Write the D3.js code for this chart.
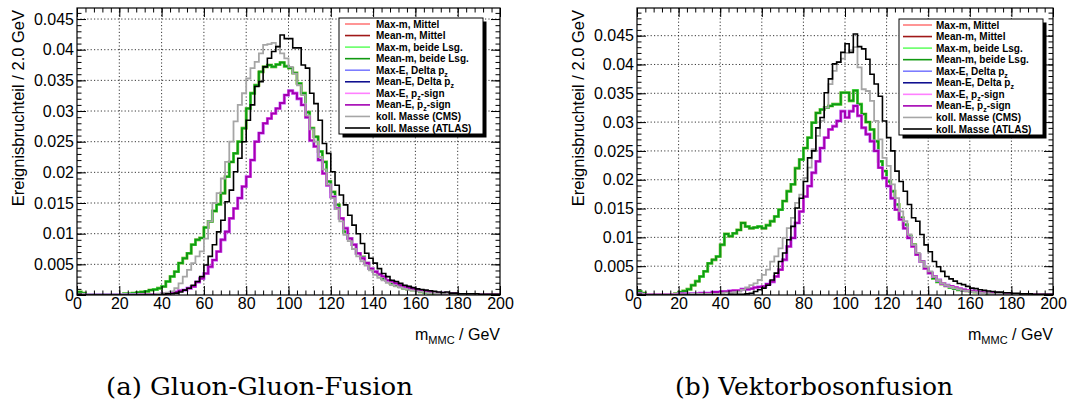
<!DOCTYPE html>
<html>
<head>
<meta charset="utf-8">
<script src="https://d3js.org/d3.v7.min.js"></script>
<style>
  body { margin: 0; background: #fff; }
  text { font-family: "Liberation Sans", Arial, Helvetica, sans-serif; }
</style>
</head>
<body>
<script>
// m_MMC histograms, 100 bins of 2 GeV from 0 to 200
var binWidth = 2;

// gluon-gluon fusion
var ggMeanMBeide = [0.0005,0.0003,0.0001,0.0001,0.0001,0.0001,0.0001,0.0001,0.0001,0.0001,
  0.0001,0.0002,0.0002,0.0003,0.0004,0.0005,0.0006,0.0008,0.0009,0.0011,
  0.0014,0.0022,0.0030,0.0038,0.0052,0.0060,0.0068,0.0082,0.0090,0.0093,
  0.0110,0.0120,0.0137,0.0148,0.0166,0.0193,0.0217,0.0231,0.0250,0.0272,
  0.0304,0.0329,0.0342,0.0364,0.0372,0.0375,0.0372,0.0376,0.0379,0.0373,
  0.0370,0.0362,0.0345,0.0329,0.0298,0.0272,0.0258,0.0234,0.0217,0.0185,
  0.0168,0.0147,0.0125,0.0103,0.0092,0.0082,0.0068,0.0062,0.0052,0.0043,
  0.0038,0.0033,0.0027,0.0024,0.0019,0.0016,0.0014,0.0011,0.0009,0.0008,
  0.0007,0.0005,0.0004,0.0003,0.0003,0.0002,0.0002,0.0002,0.0002,0.0002,
  0.0001,0.0001,0.0001,0.0001,0.0001,0.0001,0.0001,0.0001,0.0001,0.0001];
var ggMeanESign = [0.0001,0,0,0,0,0,0,0,0,0,
  0,0,0,0,0,0.0001,0.0001,0.0001,0.0001,0.0001,
  0.0002,0.0002,0.0004,0.0005,0.0007,0.0008,0.0011,0.0014,0.0021,0.0027,
  0.0035,0.0046,0.0057,0.0071,0.0090,0.0103,0.0125,0.0141,0.0158,0.0177,
  0.0193,0.0220,0.0250,0.0264,0.0280,0.0288,0.0296,0.0304,0.0313,0.0326,
  0.0333,0.0329,0.0320,0.0310,0.0290,0.0252,0.0242,0.0220,0.0198,0.0179,
  0.0160,0.0141,0.0125,0.0109,0.0092,0.0082,0.0068,0.0060,0.0052,0.0043,
  0.0038,0.0034,0.0030,0.0024,0.0022,0.0019,0.0016,0.0014,0.0012,0.0010,
  0.0008,0.0007,0.0006,0.0005,0.0004,0.0003,0.0003,0.0002,0.0002,0.0002,
  0.0001,0.0001,0.0001,0.0001,0.0001,0.0001,0.0001,0.0001,0.0001,0.0001];
var ggCMS = [0.0002,0.0001,0,0,0,0,0,0,0,0,
  0,0,0,0,0,0.0001,0.0001,0.0001,0.0001,0.0002,
  0.0003,0.0004,0.0006,0.0011,0.0019,0.0030,0.0041,0.0052,0.0063,0.0071,
  0.0092,0.0120,0.0150,0.0166,0.0190,0.0217,0.0250,0.0283,0.0310,0.0329,
  0.0353,0.0370,0.0380,0.0394,0.0408,0.0409,0.0411,0.0405,0.0394,0.0386,
  0.0372,0.0361,0.0342,0.0326,0.0293,0.0270,0.0250,0.0225,0.0205,0.0180,
  0.0158,0.0140,0.0120,0.0098,0.0088,0.0075,0.0063,0.0055,0.0048,0.0040,
  0.0033,0.0028,0.0024,0.0020,0.0016,0.0014,0.0012,0.0010,0.0008,0.0007,
  0.0006,0.0005,0.0004,0.0003,0.0003,0.0002,0.0002,0.0002,0.0001,0.0001,
  0.0001,0.0001,0.0001,0.0001,0.0001,0.0001,0.0001,0.0001,0.0001,0.0001];
var ggATLAS = [0.0001,0,0,0,0,0,0,0,0,0,
  0,0,0,0,0,0,0,0,0,0,
  0.0001,0.0002,0.0002,0.0003,0.0005,0.0008,0.0011,0.0016,0.0022,0.0030,
  0.0049,0.0063,0.0082,0.0103,0.0122,0.0152,0.0171,0.0201,0.0223,0.0250,
  0.0285,0.0310,0.0340,0.0348,0.0372,0.0386,0.0397,0.0405,0.0424,0.0418,
  0.0418,0.0403,0.0403,0.0375,0.0370,0.0329,0.0312,0.0285,0.0247,0.0231,
  0.0201,0.0179,0.0163,0.0147,0.0130,0.0114,0.0100,0.0084,0.0068,0.0060,
  0.0052,0.0043,0.0035,0.0030,0.0024,0.0022,0.0019,0.0016,0.0014,0.0012,
  0.0010,0.0009,0.0008,0.0007,0.0006,0.0005,0.0004,0.0005,0.0003,0.0003,
  0.0002,0.0002,0.0002,0.0002,0.0002,0.0001,0.0001,0.0001,0.0001,0.0001];

// vector boson fusion
var vbfMeanMBeide = [0.0006,0.0003,0.0001,0.0001,0.0001,0.0001,0.0001,0.0001,0.0001,0.0002,
  0.0005,0.0007,0.0010,0.0017,0.0024,0.0032,0.0041,0.0055,0.0061,0.0067,
  0.0087,0.0106,0.0102,0.0107,0.0113,0.0125,0.0119,0.0116,0.0117,0.0119,
  0.0116,0.0121,0.0128,0.0136,0.0148,0.0163,0.0180,0.0192,0.0220,0.0235,
  0.0255,0.0273,0.0299,0.0316,0.0322,0.0325,0.0328,0.0331,0.0331,0.0351,
  0.0351,0.0337,0.0355,0.0331,0.0314,0.0300,0.0287,0.0267,0.0232,0.0215,
  0.0197,0.0180,0.0157,0.0134,0.0122,0.0102,0.0087,0.0070,0.0058,0.0046,
  0.0038,0.0029,0.0023,0.0019,0.0016,0.0013,0.0011,0.0009,0.0008,0.0007,
  0.0006,0.0005,0.0004,0.0004,0.0003,0.0003,0.0003,0.0002,0.0002,0.0002,
  0.0001,0.0001,0.0001,0.0001,0.0001,0.0001,0.0001,0.0001,0.0001,0.0001];
var vbfMeanESign = [0.0002,0.0001,0.0001,0.0001,0.0001,0.0001,0.0001,0.0001,0.0001,0.0001,
  0.0002,0.0002,0.0002,0.0002,0.0002,0.0003,0.0003,0.0003,0.0005,0.0005,
  0.0006,0.0006,0.0007,0.0008,0.0008,0.0010,0.0010,0.0011,0.0013,0.0014,
  0.0015,0.0019,0.0023,0.0032,0.0044,0.0061,0.0084,0.0099,0.0125,0.0145,
  0.0171,0.0189,0.0212,0.0232,0.0255,0.0273,0.0287,0.0293,0.0302,0.0319,
  0.0308,0.0319,0.0328,0.0311,0.0290,0.0279,0.0267,0.0250,0.0221,0.0203,
  0.0189,0.0168,0.0148,0.0131,0.0116,0.0099,0.0084,0.0070,0.0058,0.0046,
  0.0038,0.0032,0.0026,0.0020,0.0017,0.0015,0.0013,0.0011,0.0009,0.0008,
  0.0007,0.0006,0.0005,0.0004,0.0004,0.0003,0.0003,0.0002,0.0002,0.0002,
  0.0001,0.0001,0.0001,0.0001,0.0001,0.0001,0.0001,0.0001,0.0001,0.0001];
var vbfCMS = [0.0002,0.0001,0.0001,0.0001,0.0001,0.0001,0.0001,0.0001,0.0001,0.0001,
  0.0001,0.0001,0.0001,0.0002,0.0002,0.0002,0.0002,0.0002,0.0002,0.0002,
  0.0003,0.0004,0.0004,0.0005,0.0006,0.0009,0.0013,0.0017,0.0020,0.0026,
  0.0035,0.0044,0.0058,0.0067,0.0081,0.0099,0.0116,0.0134,0.0160,0.0174,
  0.0203,0.0221,0.0253,0.0276,0.0302,0.0325,0.0366,0.0389,0.0404,0.0410,
  0.0420,0.0425,0.0430,0.0395,0.0357,0.0354,0.0337,0.0302,0.0270,0.0238,
  0.0224,0.0192,0.0168,0.0145,0.0128,0.0105,0.0087,0.0073,0.0058,0.0049,
  0.0041,0.0032,0.0026,0.0020,0.0017,0.0014,0.0012,0.0010,0.0008,0.0007,
  0.0006,0.0005,0.0004,0.0003,0.0003,0.0002,0.0002,0.0002,0.0001,0.0001,
  0.0001,0.0001,0.0001,0.0001,0.0001,0.0001,0.0001,0.0001,0.0001,0.0001];
var vbfATLAS = [0.0001,0,0,0,0,0,0,0,0,0,
  0,0,0,0,0,0,0,0,0,0,
  0,0,0.0001,0.0001,0.0001,0.0001,0.0002,0.0003,0.0006,0.0009,
  0.0012,0.0017,0.0026,0.0038,0.0058,0.0073,0.0096,0.0119,0.0151,0.0168,
  0.0197,0.0238,0.0250,0.0290,0.0308,0.0351,0.0375,0.0401,0.0404,0.0421,
  0.0436,0.0421,0.0453,0.0431,0.0427,0.0409,0.0383,0.0366,0.0345,0.0302,
  0.0273,0.0250,0.0215,0.0197,0.0180,0.0157,0.0134,0.0128,0.0105,0.0087,
  0.0075,0.0058,0.0049,0.0041,0.0032,0.0028,0.0024,0.0020,0.0018,0.0015,
  0.0012,0.0011,0.0009,0.0008,0.0007,0.0006,0.0005,0.0005,0.0004,0.0004,
  0.0003,0.0003,0.0002,0.0002,0.0002,0.0001,0.0001,0.0001,0.0001,0.0001];

var xTicks = [0, 20, 40, 60, 80, 100, 120, 140, 160, 180, 200];
var yTicks = [0, 0.005, 0.01, 0.015, 0.02, 0.025, 0.03, 0.035, 0.04, 0.045];
var yTickLabels = ["0", "0.005", "0.01", "0.015", "0.02", "0.025", "0.03", "0.035", "0.04", "0.045"];

// legend entries, in drawing order ("_" marks a subscript letter)
var seriesLabels = ["Max-m, Mittel", "Mean-m, Mittel", "Max-m, beide Lsg.", "Mean-m, beide Lsg.",
  "Max-E, Delta p_z", "Mean-E, Delta p_z", "Max-E, p_z-sign", "Mean-E, p_z-sign",
  "koll. Masse (CMS)", "koll. Masse (ATLAS)"];
// which histogram each entry uses (the Mittel and Delta-pz variants lie under the others)
var seriesKey = ["mBeide", "mBeide", "mBeide", "mBeide", "eSign", "eSign", "eSign", "eSign", "cms", "atlas"];
var seriesColor = ["#ff7a7a", "#a01818", "#66ff66", "#119911", "#7c7cff", "#101090", "#ff80ff", "#a300b3", "#a6a6a6", "#000000"];
var seriesWidth = [2.8, 2.0, 2.8, 2.0, 2.8, 2.0, 2.8, 2.0, 1.8, 1.6];

var panels = [
  { left: 77, right: 500, top: 8, bottom: 295, yMax: 0.0468, ytX: 24,
    hist: { mBeide: ggMeanMBeide, eSign: ggMeanESign, cms: ggCMS, atlas: ggATLAS },
    leg: { x: 339, y: 18, w: 144, h: 116, l0: 345, l1: 370, tx: 376 },
    caption: "(a) Gluon-Gluon-Fusion", capX: 106, capW: 307 },
  { left: 637, right: 1053, top: 8, bottom: 295, yMax: 0.0498, ytX: 584,
    hist: { mBeide: vbfMeanMBeide, eSign: vbfMeanESign, cms: vbfCMS, atlas: vbfATLAS },
    leg: { x: 899, y: 19, w: 144, h: 116, l0: 903, l1: 932, tx: 936 },
    caption: "(b) Vektorbosonfusion", capX: 675, capW: 278 }
];

var W = 1073, H = 405;
var svg = d3.select("body").append("svg").attr("width", W).attr("height", H);

function addLabel(sel, label) {
  var parts = label.split(/_(.)/);
  parts.forEach(function(p, i) {
    if (p === "") return;
    var t = sel.append("tspan").text(p);
    if (i % 2 === 1) { t.attr("font-size", 7).attr("dy", 3); }
    else if (i > 0) { t.attr("dy", -3); }
  });
}

panels.forEach(function(p, pi) {
  var x = d3.scaleLinear().domain([0, 200]).range([p.left, p.right]);
  var y = d3.scaleLinear().domain([0, p.yMax]).range([p.bottom, p.top]);
  var g = svg.append("g");

  // dotted grid
  g.append("g").selectAll("line").data(xTicks.slice(1, -1)).enter().append("line")
    .attr("x1", function(d) { return x(d); }).attr("x2", function(d) { return x(d); })
    .attr("y1", p.top).attr("y2", p.bottom)
    .attr("stroke", "#222").attr("stroke-width", 0.9).attr("stroke-dasharray", "1.2,2.2");
  g.append("g").selectAll("line").data(yTicks.slice(1)).enter().append("line")
    .attr("y1", function(d) { return y(d); }).attr("y2", function(d) { return y(d); })
    .attr("x1", p.left).attr("x2", p.right)
    .attr("stroke", "#222").attr("stroke-width", 0.9).attr("stroke-dasharray", "1.2,2.2");

  // histograms
  var clipId = "clip" + pi;
  svg.append("clipPath").attr("id", clipId).append("rect")
    .attr("x", p.left).attr("y", p.top).attr("width", p.right - p.left).attr("height", p.bottom - p.top);
  var line = d3.line().x(function(d) { return x(d[0]); }).y(function(d) { return y(d[1]); })
    .curve(d3.curveStepAfter);
  var hg = g.append("g").attr("clip-path", "url(#" + clipId + ")");
  seriesKey.forEach(function(k, si) {
    var vals = p.hist[k];
    var pts = vals.map(function(v, i) { return [i * binWidth, v]; });
    pts.push([vals.length * binWidth, vals[vals.length - 1]]);
    hg.append("path").attr("d", line(pts)).attr("fill", "none")
      .attr("stroke", seriesColor[si]).attr("stroke-width", seriesWidth[si])
      .attr("stroke-linejoin", "miter");
  });

  // axes with ROOT style inner ticks
  var xMinor = d3.range(0, 201, 4), yMinor = d3.range(0, p.yMax, 0.001);
  function styleAxis(a) {
    a.select(".domain").remove();
    a.selectAll("line").attr("stroke", "#000");
    a.attr("font-size", 16).attr("font-family", "'Liberation Sans', Arial, sans-serif");
    a.selectAll("text").attr("fill", "#000");
  }
  g.append("g").attr("transform", "translate(0," + p.bottom + ")")
    .call(d3.axisBottom(x).tickValues(xTicks).tickSize(-9).tickPadding(3).tickFormat(d3.format("d"))).call(styleAxis);
  g.append("g").attr("transform", "translate(0," + p.bottom + ")")
    .call(d3.axisBottom(x).tickValues(xMinor).tickSize(-4.5).tickFormat("")).call(styleAxis);
  g.append("g").attr("transform", "translate(0," + p.top + ")")
    .call(d3.axisTop(x).tickValues(xTicks).tickSize(-9).tickFormat("")).call(styleAxis);
  g.append("g").attr("transform", "translate(0," + p.top + ")")
    .call(d3.axisTop(x).tickValues(xMinor).tickSize(-4.5).tickFormat("")).call(styleAxis);
  g.append("g").attr("transform", "translate(" + p.left + ",0)")
    .call(d3.axisLeft(y).tickValues(yTicks).tickSize(-9).tickPadding(3)
      .tickFormat(function(d, i) { return yTickLabels[i]; })).call(styleAxis);
  g.append("g").attr("transform", "translate(" + p.left + ",0)")
    .call(d3.axisLeft(y).tickValues(yMinor).tickSize(-4.5).tickFormat("")).call(styleAxis);
  g.append("g").attr("transform", "translate(" + p.right + ",0)")
    .call(d3.axisRight(y).tickValues(yTicks).tickSize(-9).tickFormat("")).call(styleAxis);
  g.append("g").attr("transform", "translate(" + p.right + ",0)")
    .call(d3.axisRight(y).tickValues(yMinor).tickSize(-4.5).tickFormat("")).call(styleAxis);

  // frame
  g.append("rect").attr("x", p.left).attr("y", p.top)
    .attr("width", p.right - p.left).attr("height", p.bottom - p.top)
    .attr("fill", "none").attr("stroke", "#000").attr("stroke-width", 1.2);

  // axis titles
  g.append("text").attr("transform", "translate(" + p.ytX + ",10) rotate(-90)")
    .attr("text-anchor", "end").attr("font-size", 16.5).text("Ereignisbruchteil / 2.0 GeV");
  var xt = g.append("text").attr("x", p.right).attr("y", 340).attr("text-anchor", "end").attr("font-size", 16);
  xt.append("tspan").text("m");
  xt.append("tspan").attr("font-size", 11).attr("dy", 4).text("MMC");
  xt.append("tspan").attr("dy", -4).text(" / GeV");

  // legend
  var L = p.leg;
  g.append("rect").attr("x", L.x + 3.5).attr("y", L.y + 3.5).attr("width", L.w).attr("height", L.h).attr("fill", "#000");
  g.append("rect").attr("x", L.x).attr("y", L.y).attr("width", L.w).attr("height", L.h)
    .attr("fill", "#fff").attr("stroke", "#000").attr("stroke-width", 1);
  var rowStep = (L.h - 12) / (seriesLabels.length - 1);
  seriesLabels.forEach(function(lab, si) {
    var ry = L.y + 6 + si * rowStep;
    g.append("line").attr("x1", L.l0).attr("x2", L.l1).attr("y1", ry).attr("y2", ry)
      .attr("stroke", seriesColor[si]).attr("stroke-width", 1.6);
    var t = g.append("text").attr("x", L.tx).attr("y", ry + 3.6)
      .attr("font-size", 10).attr("font-weight", "bold").attr("fill", "#000");
    addLabel(t, lab);
  });

  // caption
  g.append("text").attr("x", p.capX).attr("y", 395)
    .attr("font-family", "'DejaVu Serif', 'Liberation Serif', serif").attr("font-size", 25)
    .attr("textLength", p.capW).attr("lengthAdjust", "spacingAndGlyphs")
    .style("font-family", "'DejaVu Serif', 'Liberation Serif', serif")
    .text(p.caption);
});
</script>
</body>
</html>
